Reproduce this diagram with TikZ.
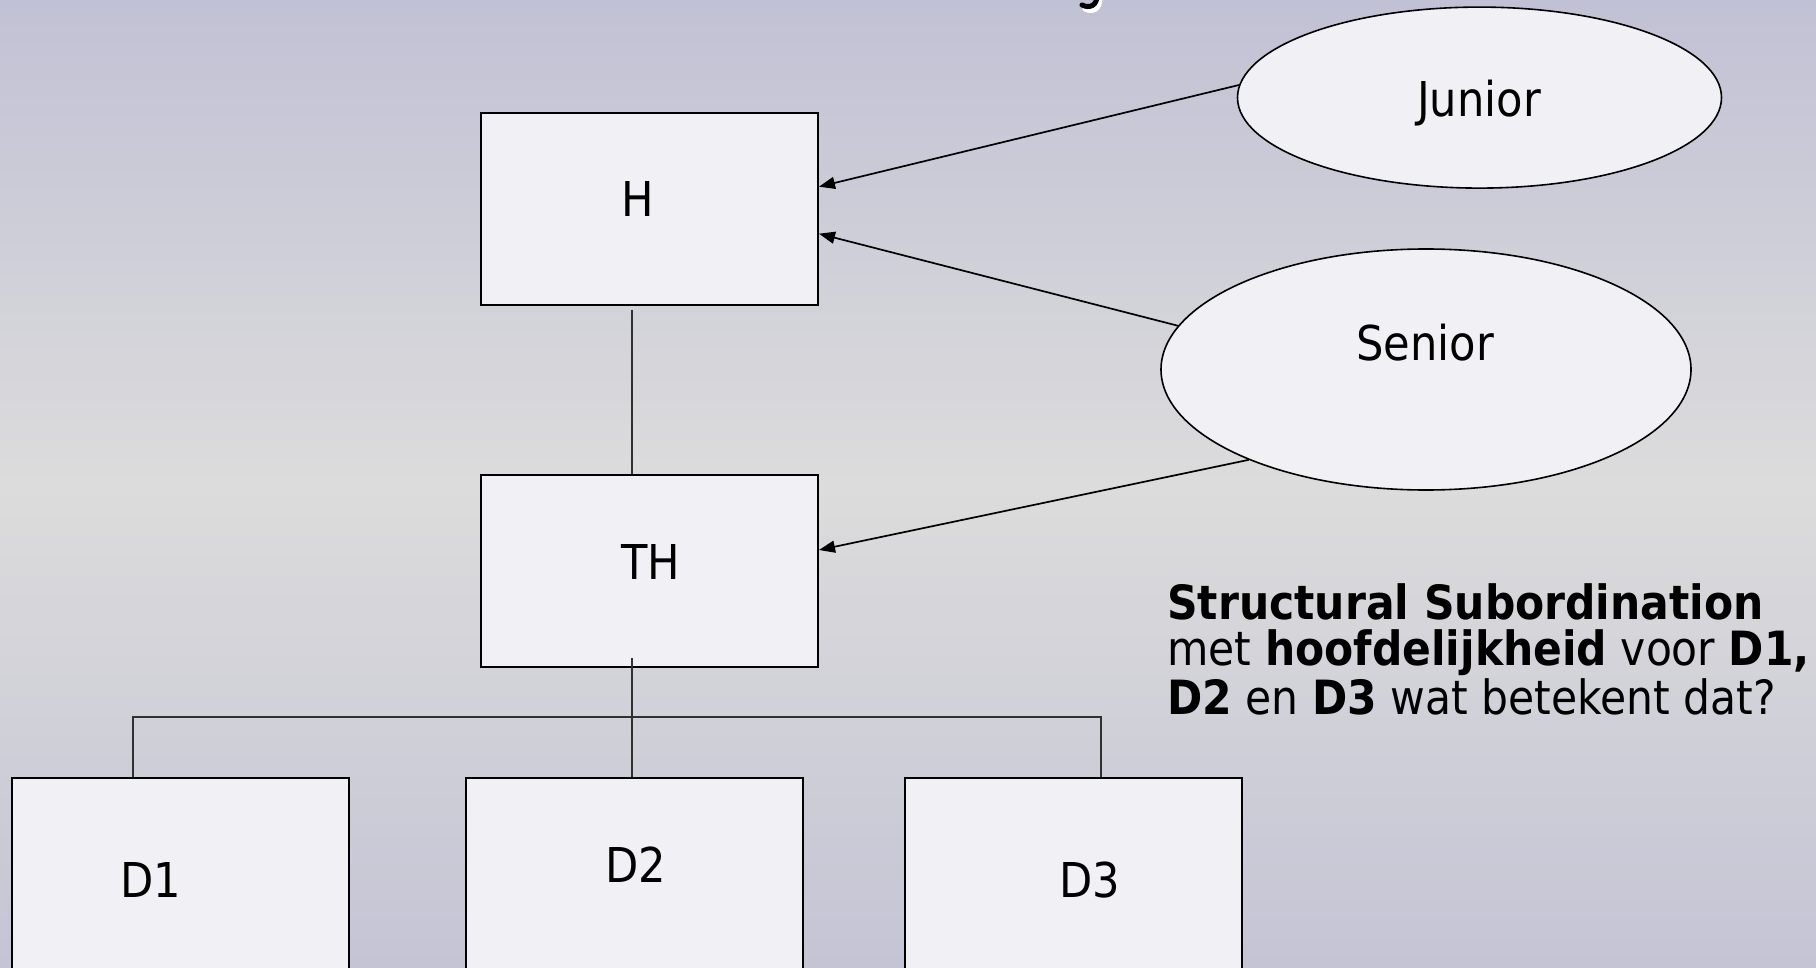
\documentclass[tikz,border=0pt]{standalone}
\usepackage{fontspec}
\setmainfont{DejaVu Sans}[FakeStretch=0.9]
\usetikzlibrary{shapes.geometric,arrows.meta}
\definecolor{bgtop}{HTML}{C1C1D5}
\definecolor{bgmid}{HTML}{DCDCDC}
\definecolor{bgbot}{HTML}{C4C4D5}
\definecolor{boxfill}{HTML}{F1F1F5}
\definecolor{treeline}{HTML}{303030}
% lavender at top and bottom, light grey in the middle
% (\shade maps the path onto the 25bp..75bp band of the shading)
\pgfdeclareverticalshading{slidebg}{100bp}{%
  color(0bp)=(bgbot); color(25bp)=(bgbot); color(50bp)=(bgmid);
  color(75bp)=(bgtop); color(100bp)=(bgtop)}
\tikzset{
  unit/.style={draw=black, line width=1pt, fill=boxfill, inner sep=0pt},
  rankbox/.style={unit, rectangle, minimum width=168.5pt, minimum height=96pt},
  deptbox/.style={unit, rectangle, minimum width=168.5pt, minimum height=150pt},
  rolebubble/.style={unit, ellipse, line width=0.8pt},
  lbl/.style={font=\fontsize{24pt}{28pt}\selectfont, inner sep=0pt, anchor=base},
  link/.style={line width=0.85pt, -{Triangle[length=8pt,width=6pt]}},
  tree/.style={draw=treeline, line width=0.8pt},
}
\begin{document}
\begin{tikzpicture}[x=0.5pt, y=-0.5pt]
  \useasboundingbox (0,0) rectangle (1816,968);
  % slide background
  \shade[shading=slidebg] (0,0) rectangle (1816,968);
  \clip (0,0) rectangle (1816,968);

  % tail of a title letter reaching into the slide
  \draw[white, line width=2.5pt, line cap=round] (1100,-2) .. controls (1100,9) and (1093,13) .. (1085,9);
  \draw[black, line width=2.5pt, line cap=round] (1097,-4) .. controls (1097,5) and (1090,9) .. (1082,5);

  % boxes
  \node[rankbox] (H)  at (649.5,208.7) {};
  \node[rankbox] (TH) at (649.5,571) {};
  \node[deptbox] (D1) at (180.5,928) {};
  \node[deptbox] (D2) at (634,928) {};
  \node[deptbox] (D3) at (1073.5,928) {};

  % roles
  \node[rolebubble, minimum width=242pt, minimum height=90.5pt] (J) at (1479.5,97.6) {};
  \node[rolebubble, minimum width=265pt, minimum height=120.5pt] (S) at (1426,369.5) {};

  % labels
  \node[lbl] (Ht)  at (638,216.5) {H};
  \node[lbl] (THt) at (651,579) {TH};
  \node[lbl] (D1t) at (151,897) {D1};
  \node[lbl] (D2t) at (636,882) {D2};
  \node[lbl] (D3t) at (1090,897) {D3};
  \node[lbl] (Jt)  at (1479,117) {Junior};
  \node[lbl] (St)  at (1425,360) {Senior};

  % hierarchy lines
  \coordinate (busL) at (133,717);
  \coordinate (busR) at (1101,717);
  \draw[tree] ([xshift=-8.75pt,yshift=-2pt]H.south) -- ([xshift=-8.75pt]TH.north);
  \draw[tree] ([xshift=-8.75pt,yshift=5pt]TH.south) -- ([xshift=-8.75pt]TH.south |- D2.north);
  \draw[tree] (D1.north -| busL) -- (busL) -- (busR) -- (D3.north -| busR);

  % role arrows
  \draw[link] (J.177) -- ([yshift=11pt]H.east);
  \draw[link] (S.170) -- ([yshift=-12.5pt]H.east);
  \draw[link] (S.207) -- ([yshift=10.5pt]TH.east);

  % note (anchored on the baseline of its last line)
  \node[font=\fontsize{23.6pt}{23pt}\selectfont, align=left, inner sep=0pt, anchor=base west] (note) at (1167,714)
    {\textbf{Structural Subordination}\\
     met \textbf{hoofdelijkheid} voor \textbf{D1,}\\
     \textbf{D2} en \textbf{D3} wat betekent dat?};
\end{tikzpicture}
\end{document}
